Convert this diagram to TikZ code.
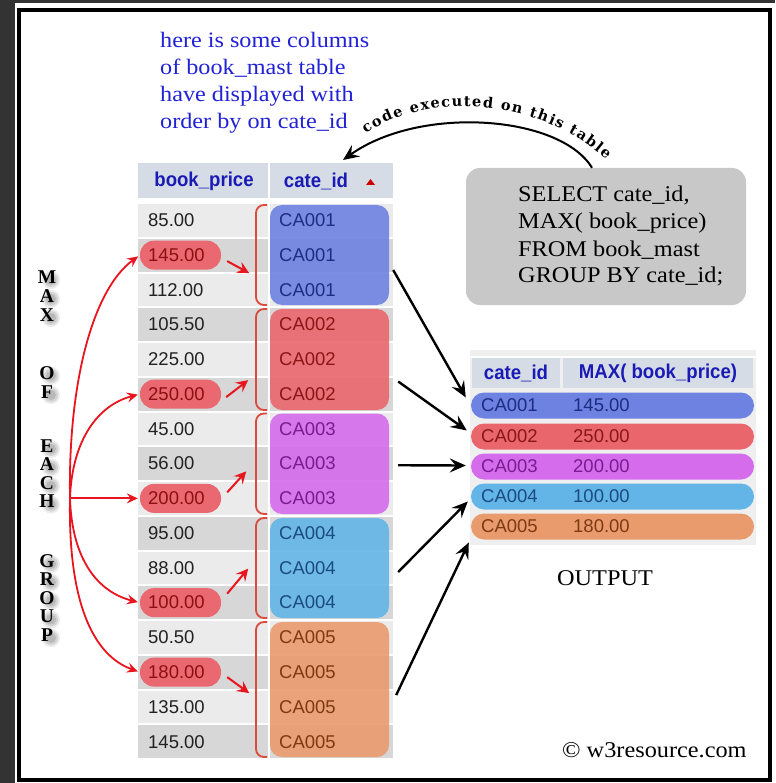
\documentclass[tikz,border=0pt]{standalone}
\usepackage{fontspec}
\setmainfont{Liberation Serif}
\newfontfamily\tsans{Liberation Sans}
\newfontfamily\tsansh[FakeStretch=0.93]{Liberation Sans}
\newfontfamily\tser[FakeStretch=1.08]{Liberation Serif}
\newfontfamily\tbluef[FakeStretch=1.1]{Liberation Serif}
\newfontfamily\tcurve{DejaVu Serif}
\usetikzlibrary{arrows.meta,decorations.text}
\definecolor{bgdark}{HTML}{333333}
\definecolor{hdr}{HTML}{D5DCE5}
\definecolor{rowL}{HTML}{EBEBEB}
\definecolor{rowD}{HTML}{D7D7D7}
\definecolor{hblue}{HTML}{1A1AB5}
\definecolor{tblue}{HTML}{2121D6}
\definecolor{vtxt}{HTML}{222222}
\definecolor{g1c}{HTML}{6E82E2}
\definecolor{g2c}{HTML}{E9666C}
\definecolor{g3c}{HTML}{D46CEC}
\definecolor{g4c}{HTML}{63B5E8}
\definecolor{g5c}{HTML}{E99B6D}
\definecolor{gt1}{HTML}{1E2C82}
\definecolor{gt2}{HTML}{8A1616}
\definecolor{gt3}{HTML}{7A1C90}
\definecolor{gt4}{HTML}{1A4C80}
\definecolor{gt5}{HTML}{7E3A12}
\definecolor{pillc}{HTML}{EA6870}
\definecolor{pillt}{HTML}{8B1010}
\definecolor{redc}{HTML}{E8141E}
\definecolor{brk}{HTML}{DC4A3C}
\definecolor{sqlbox}{HTML}{C8C8C8}
\definecolor{tblbg}{HTML}{EFEFEF}
\begin{document}
\begin{tikzpicture}[x=1pt,y=-1pt,
  cell/.style={anchor=west,inner sep=0pt,font=\tsans\fontsize{18.5}{22}\selectfont},
  hdrtxt/.style={inner sep=0pt,text=hblue,font=\tsansh\bfseries\fontsize{20}{24}\selectfont},
  grp/.style={inner sep=0pt,rounded corners=12pt,minimum width=119pt,fill opacity=0.9},
  pillbox/.style={inner sep=0pt,fill=pillc,rounded corners=14pt,minimum width=81pt,minimum height=29pt},
  brkt/.style={draw=brk,line width=1.8pt,rounded corners=8pt},
  redarr/.style={draw=redc,line width=1.8pt,shorten >=2pt,-{Stealth[length=11pt,width=10pt,inset=4pt]}},
  redsm/.style={draw=redc,line width=2pt,-{Stealth[length=12pt,width=12pt,inset=4.5pt]}},
  blkarr/.style={draw=black,line width=2.4pt,-{Stealth[length=16pt,width=14pt,inset=6pt]}},
  outrow/.style={inner sep=0pt,rounded corners=13pt,minimum width=283pt,minimum height=26pt},
  sqltxt/.style={anchor=base west,inner sep=0pt,font=\tser\fontsize{22.5}{27}\selectfont},
  bluetxt/.style={anchor=base west,inner sep=0pt,text=tblue,font=\tbluef\fontsize{22}{27}\selectfont},
  vlet/.style={inner sep=0pt,font=\bfseries\fontsize{19.5}{19.5}\selectfont}
]
\useasboundingbox (0,0) rectangle (775,783);
\fill[bgdark] (0,0) rectangle (775,783);
\fill[white] (15,3) rectangle (775,783);
\draw[black,line width=4pt] (19,10) rectangle (770,779.5);

% blue description text
\node[bluetxt] (d1) at (160,48) {here is some columns};
\node[bluetxt] (d2) at (160,75) {of book\_mast table};
\node[bluetxt] (d3) at (160,102) {have displayed with};
\node[bluetxt] (d4) at (160,129) {order by on cate\_id};

% left table
\fill[hdr] (138,163) rectangle (268,198);
\fill[hdr] (270,163) rectangle (393,198);
\node[hdrtxt] (hbp) at (204,181) {book\_price};
\node[hdrtxt] (hci) at (316,181) {cate\_id};
\fill[red!80!black] (366,185) -- (375,185) -- (370.5,179) -- cycle;
\foreach \i in {1,...,16}{
  \pgfmathsetmacro\ya{203+34.75*(\i-1)+1}
  \pgfmathsetmacro\yb{203+34.75*\i-1}
  \ifodd\i \def\rc{rowL}\else\def\rc{rowD}\fi
  \fill[\rc] (138,\ya) rectangle (268,\yb);
  \fill[\rc] (270,\ya) rectangle (393,\yb);
}
% group boxes
\node[grp,fill=g1c,minimum height=100pt] (g1) at (329.5,255) {};
\node[grp,fill=g2c,minimum height=101pt] (g2) at (329.5,359.5) {};
\node[grp,fill=g3c,minimum height=100.5pt] (g3) at (329.5,463.75) {};
\node[grp,fill=g4c,minimum height=100pt] (g4) at (329.5,568) {};
\node[grp,fill=g5c,minimum height=135pt] (g5) at (329.5,689.5) {};
% brackets
\draw[brkt] (267,205) -- (256,205) -- (256,305) -- (267,305);
\draw[brkt] (267,309) -- (256,309) -- (256,410) -- (267,410);
\draw[brkt] (267,413.5) -- (256,413.5) -- (256,514) -- (267,514);
\draw[brkt] (267,518) -- (256,518) -- (256,618) -- (267,618);
\draw[brkt] (267,622) -- (256,622) -- (256,757) -- (267,757);
% pills
\node[pillbox] (p2) at (180.5,255.125) {};
\node[pillbox] (p6) at (180.5,394.125) {};
\node[pillbox] (p9) at (180.5,498.375) {};
\node[pillbox] (p12) at (180.5,602.625) {};
\node[pillbox] (p14) at (180.5,672.125) {};
% values
\foreach \v/\c [count=\i] in {85.00/vtxt,145.00/pillt,112.00/vtxt,105.50/vtxt,225.00/vtxt,250.00/pillt,45.00/vtxt,56.00/vtxt,200.00/pillt,95.00/vtxt,88.00/vtxt,100.00/pillt,50.50/vtxt,180.00/pillt,135.00/vtxt,145.00/vtxt}{
  \node[cell,text=\c] (v\i) at (148,{203+34.75*(\i-0.5)}) {\v};
}
\foreach \g [count=\i] in {1,1,1,2,2,2,3,3,3,4,4,4,5,5,5,5}{
  \node[cell,text=gt\g] (c\i) at (279,{203+34.75*(\i-0.5)}) {CA00\g};
}
% small red arrows
\draw[redsm] ([shift={(6,6)}]p2.east) -- ([shift={(28,18)}]p2.east);
\draw[redsm] ([shift={(5,3)}]p6.east) -- ([shift={(27,-14)}]p6.east);
\draw[redsm] ([shift={(6,-6)}]p9.east) -- ([shift={(25,-27)}]p9.east);
\draw[redsm] ([shift={(6,-9)}]p12.east) -- ([shift={(27,-34)}]p12.east);
\draw[redsm] ([shift={(6,5)}]p14.east) -- ([shift={(28,21)}]p14.east);

% vertical letters with soft shadows
\foreach \l/\y [count=\i] in {M/277,A/296,X/315,O/373,F/392,E/446,A/464.5,C/483,H/501.5,G/561,R/579.5,O/598,U/616.5,P/635}{
  \foreach \r/\o in {9/0.08,7/0.1,5/0.12}{
    \fill[black,opacity=\o] (51,{\y+3}) ellipse ({\r pt} and {\r pt});
  }
  \node[vlet] (lt\i) at (47,\y) {\l};
}
% left red arcs
\coordinate (src) at (70,498.375);
\draw[redarr] (src) .. controls (68,385) and (92,290) .. (p2.west);
\draw[redarr] (src) .. controls (72,440) and (98,405) .. (p6.west);
\draw[redarr] (src) -- (p9.west);
\draw[redarr] (src) .. controls (72,560) and (98,592) .. (p12.west);
\draw[redarr] (src) .. controls (68,600) and (92,655) .. (p14.west);

% SQL box
\node[inner sep=0pt,fill=sqlbox,rounded corners=14pt,minimum width=280pt,minimum height=137pt] (sql) at (606,236.5) {};
\node[sqltxt] (s1) at (518,202) {SELECT cate\_id,};
\node[sqltxt] (s2) at (518,229) {MAX( book\_price)};
\node[sqltxt] (s3) at (518,257) {FROM book\_mast};
\node[sqltxt] (s4) at (518,283) {GROUP BY cate\_id;};

% curved arrow and text
\coordinate (cstart) at ([xshift=-14pt]sql.north);
\coordinate (ctip) at ([shift={(27,-21)}]hci.center);
\draw[blkarr,line width=2pt] (cstart) .. controls (560,115) and (420,105) .. (ctip);
\path[decorate,decoration={text along path,text align={fit to path},
  text={|\tcurve\bfseries\fontsize{14.5}{14.5}\selectfont|code executed on this table}}]
  (366,134) .. controls (420,94) and (535,94) .. (606,160);

% output table
\fill[tblbg] (470,350) rectangle (756,545);
\fill[white] (470,356) rectangle (756,357.5);
\fill[hdr] (472,358) rectangle (560,388);
\fill[hdr] (563,358) rectangle (753,388);
\node[hdrtxt] (oh1) at (516,373) {cate\_id};
\node[hdrtxt] (oh2) at (658,373) {MAX( book\_price)};
\node[outrow,fill=g1c] (o1) at (612.5,405.5) {};
\node[outrow,fill=g2c] (o2) at (612.5,436.5) {};
\node[outrow,fill=g3c] (o3) at (612.5,466.5) {};
\node[outrow,fill=g4c] (o4) at (612.5,496.5) {};
\node[outrow,fill=g5c] (o5) at (612.5,526.5) {};
\foreach \g/\v/\y in {1/145.00/405.5,2/250.00/436.5,3/200.00/466.5,4/100.00/496.5,5/180.00/526.5}{
  \node[cell,text=gt\g] (oc\g) at (481,\y) {CA00\g};
  \node[cell,text=gt\g] (ov\g) at (573,\y) {\v};
}
\node[inner sep=0pt,font=\tser\fontsize{22.5}{27}\selectfont] (outp) at (605,578) {OUTPUT};

% black arrows
\draw[blkarr] ([shift={(4,15)}]g1.east) -- ([shift={(-5,-8)}]o1.west);
\draw[blkarr] ([shift={(9,22)}]g2.east) -- ([shift={(-4,-6)}]o2.west);
\draw[blkarr] ([shift={(9,1.5)}]g3.east) -- ([shift={(-5,-1)}]o3.west);
\draw[blkarr] ([shift={(9,4)}]g4.east) -- ([shift={(-3,5)}]o4.west);
\draw[blkarr] ([shift={(7,5.5)}]g5.east) -- ([shift={(-2,16)}]o5.west);

% copyright
\node[anchor=base west,inner sep=0pt,font=\tser\fontsize{22.5}{27}\selectfont] (copy) at (562,757) {© w3resource.com};
\end{tikzpicture}
\end{document}
